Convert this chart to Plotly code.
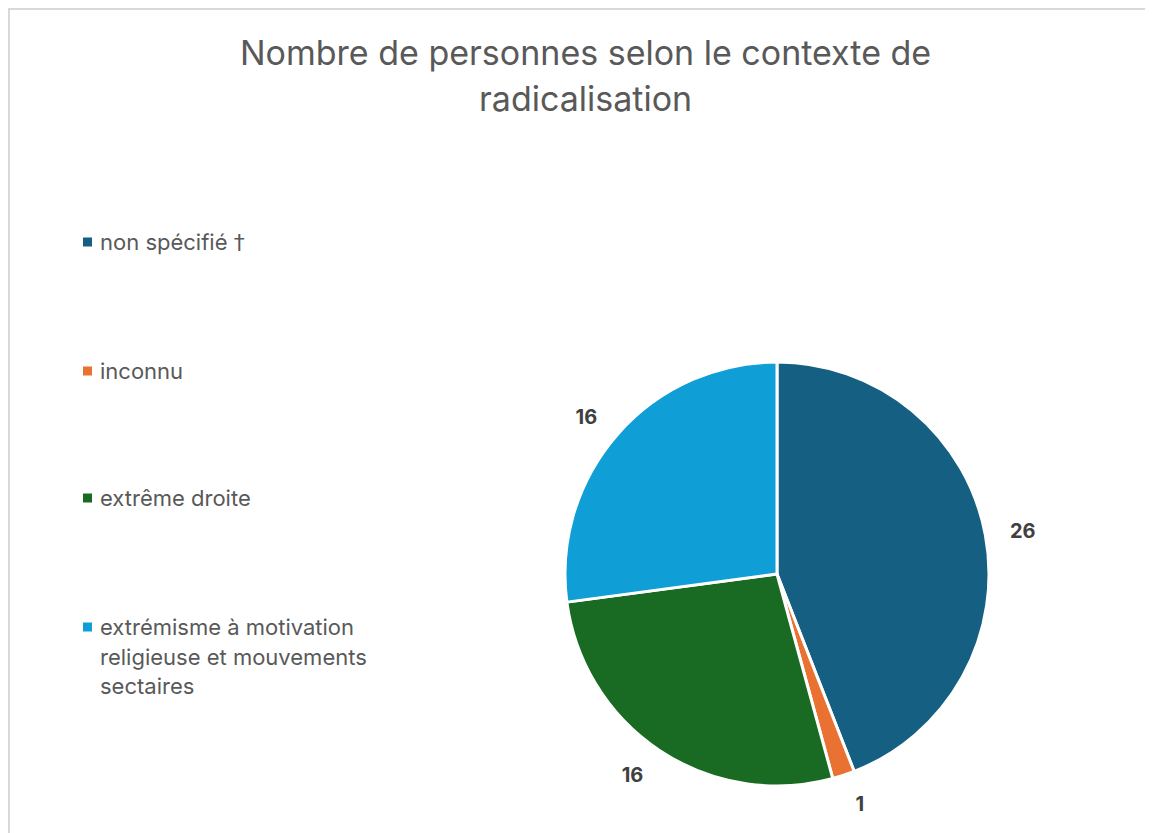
import plotly.graph_objects as go

# page body adds an 8px margin, so the figure is sized to end at the window edge
OFF = 8
W, H = 1153 - OFF, 833 - OFF

categories = ["non spécifié †", "inconnu", "extrême droite",
              "extrémisme à motivation<br>religieuse et mouvements<br>sectaires"]
values = [26, 1, 16, 16]
colors = ["#156082", "#E97132", "#196B24", "#0F9ED5"]
title_lines = ["Nombre de personnes selon le contexte de", "radicalisation"]

FONT = "Inter, Open Sans, sans-serif"

# pie geometry in page pixels
cx, cy, r = 777 - OFF, 574 - OFF, 212
r_lab = 231  # Excel puts its outside labels a bit further out than plotly


def px(x):
    return x / W


def py(y):
    return 1 - y / H


def dom(rad):
    return dict(x=[px(cx - rad), px(cx + rad)], y=[py(cy + rad), py(cy - rad)])


labels = [c.replace("<br>", " ") for c in categories]

fig = go.Figure()
fig.add_trace(go.Pie(
    labels=labels, values=values, sort=False,
    direction="clockwise", rotation=0,
    marker=dict(colors=colors, line=dict(color="white", width=3)),
    textinfo="none",
    domain=dom(r),
    showlegend=False,
    hoverinfo="label+value",
))
# transparent copy only carrying the value labels
fig.add_trace(go.Pie(
    labels=labels, values=values, sort=False,
    direction="clockwise", rotation=0,
    marker=dict(colors=["rgba(0,0,0,0)"] * len(values), line=dict(width=0)),
    textinfo="value",
    textposition="outside",
    textfont=dict(family=FONT, size=20, color="#404040", weight="bold"),
    domain=dom(r_lab),
    showlegend=False,
    hoverinfo="skip",
))

annotations = []
shapes = []

# title, two lines
for i, t in enumerate(title_lines):
    annotations.append(dict(
        x=px(585 - OFF), y=py(52 - OFF + i * 46), xref="paper", yref="paper",
        xanchor="center", yanchor="middle", showarrow=False, text=t,
        font=dict(family=FONT, size=34, color="#595959"),
    ))

# legend drawn by hand to get Excel's spacing
leg_y = [242, 371, 498, 627]
for lab, col, y in zip(categories, colors, leg_y):
    for i, line in enumerate(lab.split("<br>")):
        line = line.replace("†", '<span style="font-family:DejaVu Sans">†</span>')
        annotations.append(dict(
            x=px(98 - OFF), y=py(y - OFF + i * 29.5), xref="paper", yref="paper",
            xanchor="left", yanchor="middle", showarrow=False, text=line,
            font=dict(family=FONT, size=22, color="#595959"),
        ))
    shapes.append(dict(
        type="rect", xref="paper", yref="paper",
        x0=px(83 - OFF), x1=px(92 - OFF), y0=py(y - OFF + 4.5), y1=py(y - OFF - 4.5),
        fillcolor=col, line=dict(width=0),
    ))

# chart border, top and left edges
shapes.append(dict(type="line", xref="paper", yref="paper",
                   x0=0, x1=1, y0=py(1), y1=py(1),
                   line=dict(color="#D9D9D9", width=2)))
shapes.append(dict(type="line", xref="paper", yref="paper",
                   x0=px(1), x1=px(1), y0=0, y1=1,
                   line=dict(color="#D9D9D9", width=2)))

fig.update_layout(
    width=W, height=H,
    margin=dict(l=0, r=0, t=0, b=0),
    paper_bgcolor="white",
    annotations=annotations,
    shapes=shapes,
)

fig.write_html("out.html")
